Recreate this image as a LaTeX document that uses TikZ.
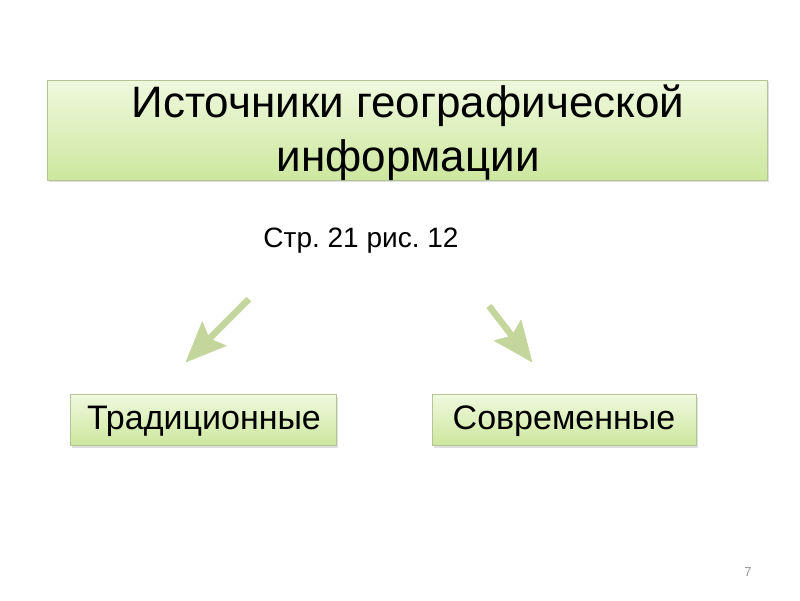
\documentclass[tikz,border=0pt]{standalone}
\usepackage{fontspec}
\setmainfont{Liberation Sans}
\usetikzlibrary{positioning, calc, arrows.meta, shadows}
\usepackage{xcolor}
\frenchspacing
\definecolor{leaftop}{RGB}{240,248,222}
\definecolor{leafbot}{RGB}{204,231,158}
\definecolor{leafedge}{RGB}{180,196,152}
\definecolor{arrowgreen}{RGB}{196,214,155}
\definecolor{pagegray}{RGB}{150,150,150}

\begin{document}
\begin{tikzpicture}[x=1pt, y=-1pt,
    greenbox/.style={draw=leafedge, line width=0.8pt, top color=leaftop, bottom color=leafbot,
      inner sep=0pt, drop shadow={shadow xshift=1.5pt, shadow yshift=-2pt, opacity=0.25}},
    fatshaft/.style={draw=arrowgreen, line width=6.5pt},
    fathead/.style={fill=arrowgreen, draw=arrowgreen, line width=0.5pt, line join=round}]
  \useasboundingbox[fill=white] (0,0) rectangle (800,600);

  % title box
  \node[greenbox, minimum width=720pt, minimum height=100pt] (title) at (407,130) {};
  \node[font=\fontsize{44}{44}\selectfont, anchor=base] (titleone) at (408,117)
    {Источники географической};
  \node[font=\fontsize{44}{44}\selectfont, anchor=base] (titletwo) at (408,171)
    {информации};

  % reference to the book
  \node[font=\fontsize{28}{28}\selectfont, anchor=base] (ref) at (361,247) {Стр. 21 рис. 12};

  % the two kinds
  \node[greenbox, minimum width=266pt, minimum height=51pt] (trad) at (203,420) {};
  \node[font=\fontsize{34}{34}\selectfont, anchor=base] (tradtext) at (204,429) {Традиционные};
  \node[greenbox, minimum width=264pt, minimum height=51pt] (modern) at (564,420) {};
  \node[font=\fontsize{34}{34}\selectfont, anchor=base] (moderntext) at (564,429) {Современные};

  % arrows (fat shaft + filled head)
  \coordinate (lfrom) at (249,299);
  \coordinate (lto) at (186,362);
  \coordinate (rfrom) at (489,306);
  \coordinate (rto) at (532,362);
  \foreach \a in {l, r} {
    \coordinate (\a base) at ($(\a to)!40pt!(\a from)$);
    \coordinate (\a notch) at ($(\a to)!33pt!(\a from)$);
    \draw[fatshaft] (\a from) -- (\a notch);
    \filldraw[fathead] (\a to) -- ($(\a base)!17pt!90:(\a from)$) -- (\a notch)
      -- ($(\a base)!17pt!-90:(\a from)$) -- cycle;
  }

  % page number
  \node[font=\fontsize{13}{13}\selectfont, text=pagegray] (page) at (748,572) {7};
\end{tikzpicture}
\end{document}
